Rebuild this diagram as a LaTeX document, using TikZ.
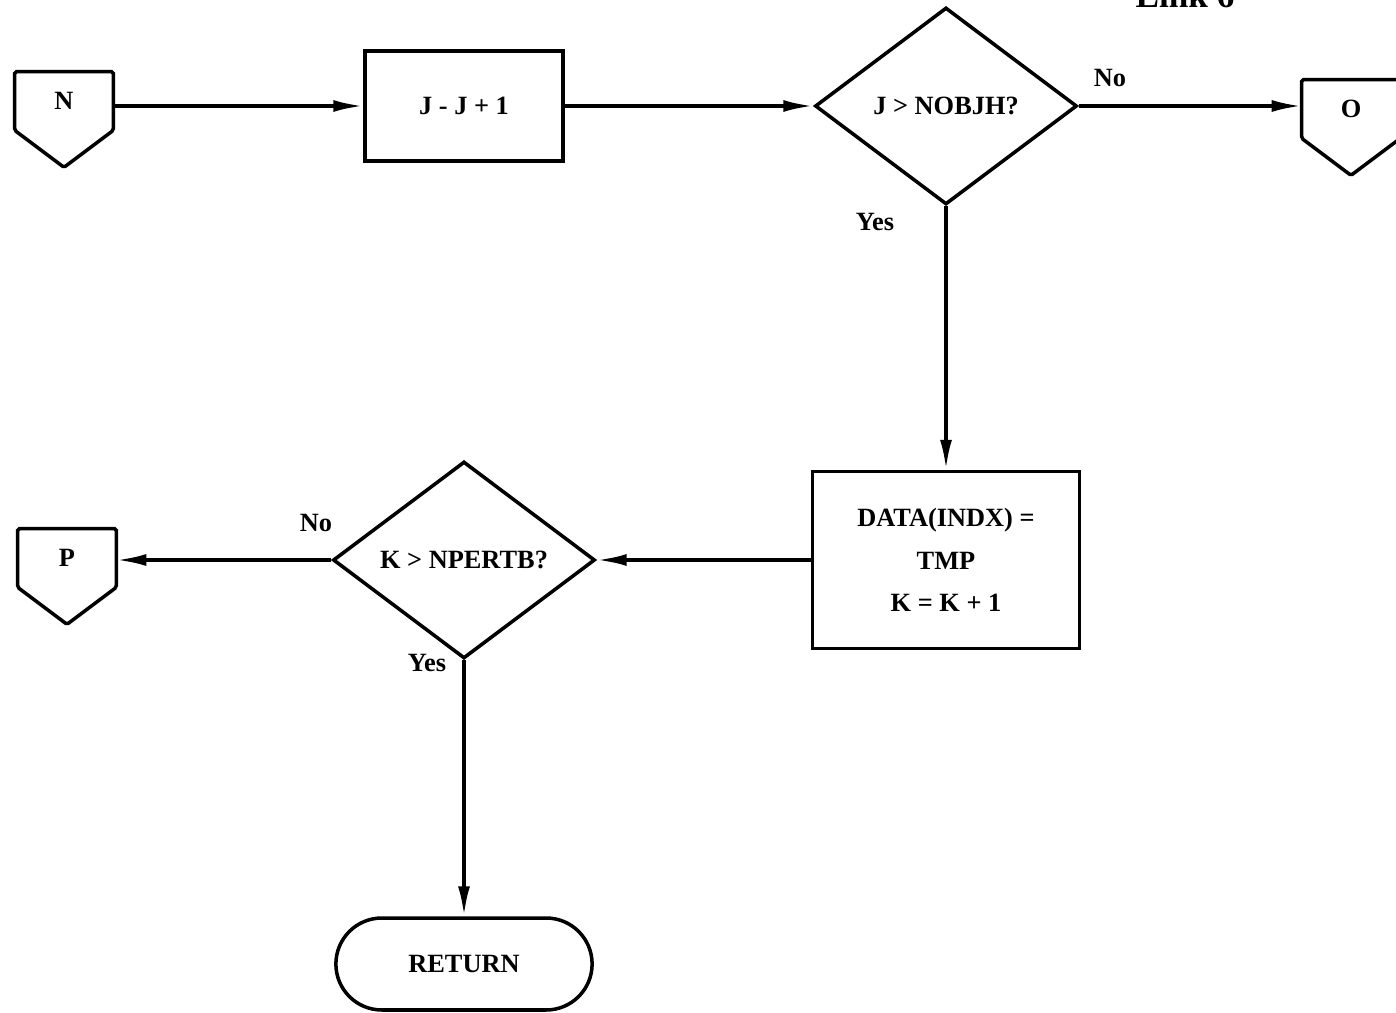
\documentclass[tikz,border=0pt]{standalone}
\usepackage{fontspec}
\setmainfont{Liberation Serif}
\usetikzlibrary{positioning, shapes.geometric, shapes.misc, arrows.meta}

\begin{document}
\begin{tikzpicture}[
		x=0.02cm, y=-0.02cm,
		font=\fontsize{15}{24}\selectfont\bfseries,
		box/.style={draw, rectangle, line width=2pt, inner sep=2pt, align=center},
		cond/.style={draw, diamond, line width=2pt, inner sep=0pt, minimum width=5.24cm, minimum height=3.94cm},
		conn/.style={rectangle, inner sep=0pt, minimum width=1.96cm, minimum height=1.16cm},
		term/.style={draw, rounded rectangle, line width=2pt, minimum width=5.36cm, minimum height=1.84cm},
		lbl/.style={inner sep=0pt},
		arr/.style={-{Latex[length=0.6cm, width=0.24cm]}, line width=2pt},
	]
	\useasboundingbox (0,0) rectangle (1396,1013);

	\node[lbl, anchor=base, font=\fontsize{20}{24}\selectfont\bfseries] (link) at (1185,8) {Link 6};

	\node[conn] (N) at (64,101) {N};
	\node[box, minimum width=3.96cm, minimum height=2.2cm] (J) at (464,106) {J - J + 1};
	\node[cond] (D1) at (946,106) {J > NOBJH?};
	\node[conn] (O) at (1351,109) {O};
	\node[box, minimum width=5.34cm, minimum height=3.54cm] (data) at (946,560) {DATA(INDX) =\\TMP\\K = K + 1};
	\node[cond] (D2) at (464,560) {K > NPERTB?};
	\node[conn] (P) at (67,558) {P};
	\node[term] (ret) at (464,964) {RETURN};

	\node[lbl] (no1) at (1110,78) {No};
	\node[lbl] (yes1) at (875,222) {Yes};
	\node[lbl] (no2) at (316,523) {No};
	\node[lbl] (yes2) at (427,663) {Yes};

	% off-page connectors
	\foreach \c in {N,O,P}
		\draw[line width=2pt, rounded corners=1pt] (\c.south west) -- (\c.north west) -- (\c.north east) -- (\c.south east) -- ([yshift=-0.74cm]\c.south) -- cycle;

	\draw[arr] (J.west -| N.east) -- (J.west);
	\draw[arr] (J.east) -- (D1.west);
	\draw[arr] (D1.east) -- (D1.east -| O.west);
	\draw[arr] (D1.south) -- (data.north);
	\draw[arr] (data.west) -- (D2.east);
	\draw[arr] (D2.west) -- (D2.west -| P.east);
	\draw[arr] (D2.south) -- (ret.north);
\end{tikzpicture}
\end{document}
